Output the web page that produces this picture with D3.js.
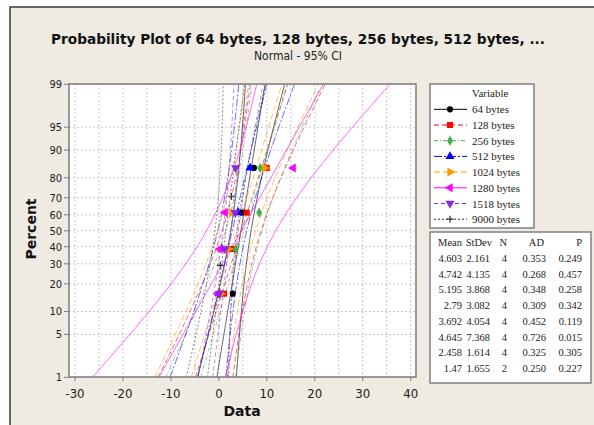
<!DOCTYPE html>
<html><head><meta charset="utf-8">
<script src="https://cdn.jsdelivr.net/npm/d3@7"></script>
<style>body{margin:0;background:#fff}svg{display:block}</style>
</head><body><svg id="c" width="594" height="425"></svg>
<script>
// ---- data ----
const seriesNames = ["64 bytes","128 bytes","256 bytes","512 bytes","1024 bytes","1280 bytes","1518 bytes","9000 bytes"];
const data64   = [2.9, 3.3, 4.8, 7.3];
const data128  = [1.1, 2.6, 5.8, 10.0];
const data256  = [0.3, 3.5, 8.4, 8.6];
const data512  = [0.0, 0.6, 4.0, 6.5];
const data1024 = [0.4, 2.0, 2.7, 9.6];
const data1280 = [-0.2, 0.2, 1.3, 15.5];
const data1518 = [0.1, 1.3, 3.4, 3.5];
const data9000 = [0.3, 2.64];
const seriesData = [data64,data128,data256,data512,data1024,data1280,data1518,data9000];
const means   = [4.603, 4.742, 5.195, 2.79, 3.692, 4.645, 2.458, 1.47];
const stdevs  = [2.161, 4.135, 3.868, 3.082, 4.054, 7.368, 1.614, 1.655];
const counts  = [4, 4, 4, 4, 4, 4, 4, 2];
const meanLabels  = ["4.603","4.742","5.195","2.79","3.692","4.645","2.458","1.47"];
const stdevLabels = ["2.161","4.135","3.868","3.082","4.054","7.368","1.614","1.655"];
const adLabels    = ["0.353","0.268","0.348","0.309","0.452","0.726","0.325","0.250"];
const pLabels     = ["0.249","0.457","0.258","0.342","0.119","0.015","0.305","0.227"];
const xTicks = [-30,-20,-10,0,10,20,30,40];
const xGrid  = [-30,-25,-20,-15,-10,-5,0,5,10,15,20,25,30,35,40];
const yTicks = [1,5,10,20,30,40,50,60,70,80,90,95,99];

// ---- styles ----
const colors = ["#000000","#ff0000","#45b04a","#0000ff","#ff9900","#ff00ff","#8a2be2","#333333"];
const dashes = [null,"5,3","4,2,1,2","8,2,2,2","6,3",null,"4,3","2,2"];
const shapes = ["circle","square","diamond","up","right","left","down","plus"];

function probit(p){
 const a=[-3.969683028665376e+01,2.209460984245205e+02,-2.759285104469687e+02,1.383577518672690e+02,-3.066479806614716e+01,2.506628277459239e+00];
 const b=[-5.447609879822406e+01,1.615858368580409e+02,-1.556989798598866e+02,6.680131188771972e+01,-1.328068155288572e+01];
 const c=[-7.784894002430293e-03,-3.223964580411365e-01,-2.400758277161838e+00,-2.549671348283860e+00,4.374664141464968e+00,2.938163982698783e+00];
 const d=[7.784695709041462e-03,3.224671290700398e-01,2.445134137142996e+00,3.754408661907416e+00];
 const pl=0.02425;
 if(p<pl){const q=Math.sqrt(-2*Math.log(p));return (((((c[0]*q+c[1])*q+c[2])*q+c[3])*q+c[4])*q+c[5])/((((d[0]*q+d[1])*q+d[2])*q+d[3])*q+1);}
 if(p<=1-pl){const q=p-0.5,r=q*q;return (((((a[0]*r+a[1])*r+a[2])*r+a[3])*r+a[4])*r+a[5])*q/(((((b[0]*r+b[1])*r+b[2])*r+b[3])*r+b[4])*r+1);}
 const q=Math.sqrt(-2*Math.log(1-p));return -(((((c[0]*q+c[1])*q+c[2])*q+c[3])*q+c[4])*q+c[5])/((((d[0]*q+d[1])*q+d[2])*q+d[3])*q+1);
}

const svg = d3.select("#c");
// outer frame
svg.append("rect").attr("x",10).attr("y",7).attr("width",600).attr("height",430)
  .attr("fill","#efebe3").attr("stroke","#3a3a3a").attr("stroke-width",1.5);

const L=69, R=416, T=84, B=377;
const x = d3.scaleLinear().domain([-30,40]).range([75,410.7]);
const zMin = probit(0.01), zMax = probit(0.99);
const y = d3.scaleLinear().domain([zMin, zMax]).range([377.3, 84.3]);

svg.append("rect").attr("x",L).attr("y",T).attr("width",R-L).attr("height",B-T).attr("fill","#fff");

// grid
const grid = svg.append("g").attr("stroke","#c8c8c8").attr("stroke-dasharray","2,2").attr("stroke-width",1);
xGrid.forEach(v=>grid.append("line").attr("x1",x(v)).attr("x2",x(v)).attr("y1",T).attr("y2",B));
yTicks.forEach(v=>grid.append("line").attr("x1",L).attr("x2",R).attr("y1",y(probit(v/100))).attr("y2",y(probit(v/100))));

svg.append("defs").append("clipPath").attr("id","clip").append("rect")
  .attr("x",L).attr("y",T).attr("width",R-L).attr("height",B-T);
const plot = svg.append("g").attr("clip-path","url(#clip)");

const zs = d3.range(0,101).map(i=>zMin + (zMax-zMin)*i/100);
const line = d3.line().x(d=>x(d[0])).y(d=>y(d[1]));
seriesNames.forEach((name,i)=>{
  const m=means[i], s=stdevs[i], n=counts[i];
  const fit = zs.map(z=>[m+s*z, z]);
  const lo = zs.map(z=>[m+s*z-1.96*s*Math.sqrt(1/n+z*z/(2*n)), z]);
  const hi = zs.map(z=>[m+s*z+1.96*s*Math.sqrt(1/n+z*z/(2*n)), z]);
  [fit,lo,hi].forEach(pts=>{
    plot.append("path").attr("d",line(pts)).attr("fill","none")
      .attr("stroke",colors[i]).attr("stroke-width",1).attr("stroke-opacity",0.6)
      .attr("stroke-dasharray",dashes[i]);
  });
});

function marker(g, shape, cx, cy, col){
  if(shape==="plus"){
    g.append("path").attr("d",`M${cx-3.5},${cy}H${cx+3.5}M${cx},${cy-3.5}V${cy+3.5}`).attr("stroke",col).attr("stroke-width",1.2);
    return;
  }
  let type=d3.symbolCircle, size=30, rot=0;
  if(shape==="square"){type=d3.symbolSquare; size=36;}
  if(shape==="diamond"){type=d3.symbolDiamond; size=30;}
  if(shape==="up"){type=d3.symbolTriangle; size=36;}
  if(shape==="right"){type=d3.symbolTriangle; size=36; rot=90;}
  if(shape==="left"){type=d3.symbolTriangle; size=36; rot=-90;}
  if(shape==="down"){type=d3.symbolTriangle; size=36; rot=180;}
  g.append("path").attr("d",d3.symbol().type(type).size(size)())
    .attr("transform",`translate(${cx},${cy}) rotate(${rot})`).attr("fill",col);
}
const mk = svg.append("g");
seriesNames.forEach((name,i)=>{
  const vals = seriesData[i], n = vals.length;
  vals.forEach((v,j)=>{
    const p = (j+1-0.3)/(n+0.4);
    marker(mk, shapes[i], x(v), y(probit(p)), colors[i]);
  });
});

// frame
svg.append("rect").attr("x",L).attr("y",T).attr("width",R-L).attr("height",B-T)
  .attr("fill","none").attr("stroke","#7d7d7d").attr("stroke-width",1.5);

// axes
const tickFont = "'DejaVu Sans Condensed','DejaVu Sans',sans-serif";
const xa = svg.append("g");
xTicks.forEach(v=>{
  xa.append("line").attr("x1",x(v)).attr("x2",x(v)).attr("y1",B).attr("y2",B+4).attr("stroke","#7d7d7d");
  xa.append("text").attr("x",x(v)).attr("y",B+21).attr("text-anchor","middle")
    .attr("font-family",tickFont).attr("font-size",13).attr("fill","#222").text(v);
});
const ya = svg.append("g");
yTicks.forEach(v=>{
  const yy = y(probit(v/100));
  ya.append("line").attr("x1",L-5).attr("x2",L).attr("y1",yy).attr("y2",yy).attr("stroke","#7d7d7d");
  ya.append("text").attr("x",L-7).attr("y",yy+3.8).attr("text-anchor","end")
    .attr("font-family",tickFont).attr("font-size",11).attr("fill","#222").text(v);
});

svg.append("text").attr("x",242).attr("y",416).attr("text-anchor","middle")
  .attr("font-family","'DejaVu Sans',sans-serif").attr("font-weight","bold").attr("font-size",14).attr("fill","#111").text("Data");
svg.append("text").attr("transform","translate(36,229) rotate(-90)").attr("text-anchor","middle")
  .attr("font-family","'DejaVu Sans',sans-serif").attr("font-weight","bold").attr("font-size",14).attr("fill","#111").text("Percent");

// titles
svg.append("text").attr("x",298).attr("y",44).attr("text-anchor","middle")
  .attr("font-family","'DejaVu Sans Condensed','DejaVu Sans',sans-serif").attr("font-weight","bold").attr("font-size",14.5)
  .attr("textLength",494).attr("lengthAdjust","spacingAndGlyphs").attr("fill","#111")
  .text("Probability Plot of 64 bytes, 128 bytes, 256 bytes, 512 bytes, ...");
svg.append("text").attr("x",298).attr("y",60).attr("text-anchor","middle")
  .attr("font-family","'DejaVu Sans Condensed','DejaVu Sans',sans-serif").attr("font-size",12).attr("fill","#222")
  .text("Normal - 95% CI");

// legend
const legFont = "'Liberation Serif',serif";
const lg = svg.append("g");
lg.append("rect").attr("x",430).attr("y",84).attr("width",104).attr("height",144)
  .attr("fill","#fff").attr("stroke","#808080").attr("stroke-width",1.5);
lg.append("text").attr("x",490).attr("y",97).attr("text-anchor","middle")
  .attr("font-family",legFont).attr("font-size",11).attr("fill","#222").text("Variable");
seriesNames.forEach((name,i)=>{
  const cy = 109.3 + i*15.7;
  lg.append("line").attr("x1",434).attr("x2",467).attr("y1",cy).attr("y2",cy)
    .attr("stroke",colors[i]).attr("stroke-width",1).attr("stroke-dasharray",dashes[i]);
  marker(lg, shapes[i], 450, cy, colors[i]);
  lg.append("text").attr("x",472).attr("y",cy+4).attr("font-family",legFont)
    .attr("font-size",11).attr("fill","#222").text(name);
});

// stats table
const tb = svg.append("g").attr("font-family",legFont).attr("font-size",10.5).attr("fill","#222");
tb.append("rect").attr("x",430).attr("y",232).attr("width",161).attr("height",151)
  .attr("fill","#fff").attr("stroke","#808080").attr("stroke-width",1.5);
const headers = ["Mean","StDev","N","AD","P"];
const headRight = [462,492,507,544,582];
const colRight = [462,490,507,546,582];
headers.forEach((h,k)=>tb.append("text").attr("x",headRight[k]).attr("y",246).attr("text-anchor","end").text(h));
seriesNames.forEach((name,i)=>{
  const yy = 262 + i*15.7;
  const cells = [meanLabels[i], stdevLabels[i], String(counts[i]), adLabels[i], pLabels[i]];
  cells.forEach((t,k)=>tb.append("text").attr("x",colRight[k]).attr("y",yy).attr("text-anchor","end").text(t));
});
</script></body></html>
